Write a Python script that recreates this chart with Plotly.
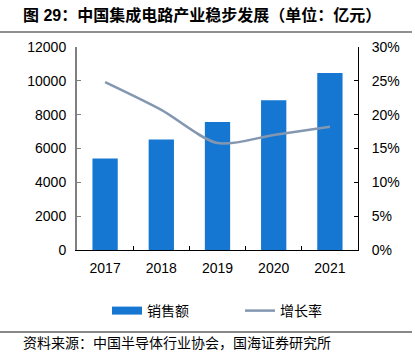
import plotly.graph_objects as go

years = ["2017", "2018", "2019", "2020", "2021"]
sales = [5411.3, 6532.0, 7562.3, 8848.0, 10458.3]
growth = [0.248, 0.207, 0.158, 0.170, 0.182]

left_ticks = [0, 2000, 4000, 6000, 8000, 10000, 12000]
left_labels = ["0", "2000", "4000", "6000", "8000", "10000", "12000"]
right_ticks = [0, 0.05, 0.10, 0.15, 0.20, 0.25, 0.30]

FONT = "Liberation Sans, Arial, Noto Sans CJK SC, sans-serif"
BAR_COLOR = "#1677D2"
LINE_COLOR = "#8497B0"

L, R, T, B = 77, 57, 47, 114
PW, PH = 415 - L - R, 364 - T - B

def px(x):
    return (x - L) / PW

def py(y):
    return (364 - B - y) / PH

fig = go.Figure()
fig.add_trace(go.Bar(x=years, y=sales, name="销售额", marker=dict(color=BAR_COLOR, line=dict(width=0)),
                     yaxis="y", showlegend=False))
# legend entry for bars drawn as a thick short line (rectangle look)
fig.add_trace(go.Scatter(x=[None], y=[None], name="销售额", mode="lines",
                         line=dict(color=BAR_COLOR, width=8), yaxis="y", hoverinfo="skip"))
fig.add_trace(go.Scatter(x=years, y=growth, name="增长率", mode="lines",
                         line=dict(color=LINE_COLOR, width=2.5, shape="spline", smoothing=0.8),
                         yaxis="y2"))

fig.update_layout(
    width=415, height=364,
    margin=dict(l=L, r=R, t=T, b=B),
    paper_bgcolor="white", plot_bgcolor="white",
    font=dict(family=FONT, size=14, color="#000000"),
    bargap=0.55,
    showlegend=True,
    legend=dict(orientation="h", x=px(107), xanchor="left", y=py(311), yanchor="middle",
                font=dict(family="Noto Sans CJK SC, sans-serif", size=14),
                entrywidth=88, entrywidthmode="pixels", bgcolor="rgba(0,0,0,0)"),
    xaxis=dict(type="category", showline=True, linecolor="#000000", linewidth=1,
               ticks="inside", ticklen=4, tickcolor="#000000", tickson="boundaries",
               showgrid=False, tickfont=dict(size=14), ticklabelstandoff=5),
    yaxis=dict(range=[0, 12000], tickvals=left_ticks, ticktext=left_labels, showline=True,
               linecolor="#808080", linewidth=2,
               ticks="inside", ticklen=4, tickcolor="#808080", showgrid=False, zeroline=False,
               tickfont=dict(size=14), ticklabelstandoff=6),
    yaxis2=dict(range=[0, 0.30], tickvals=right_ticks, tickformat=".0%", overlaying="y", side="right",
                showline=True, linecolor="#000000", linewidth=1, ticks="inside", ticklen=4,
                tickcolor="#000000", showgrid=False, zeroline=False, tickfont=dict(size=14),
                ticklabelstandoff=10),
    annotations=[
        dict(text="<b>图 29：中国集成电路产业稳步发展（单位：亿元）</b>", xref="paper", yref="paper",
             x=px(21), y=py(15), xanchor="left", yanchor="middle", showarrow=False,
             font=dict(family="Liberation Sans, Noto Sans CJK SC, sans-serif", size=16)),
        dict(text="资料来源：中国半导体行业协会，国海证券研究所", xref="paper", yref="paper",
             x=px(21), y=py(342), xanchor="left", yanchor="middle", showarrow=False,
             font=dict(family="Noto Sans CJK SC, sans-serif", size=14)),
    ],
    shapes=[
        dict(type="line", xref="paper", yref="paper", x0=px(0), x1=px(412),
             y0=py(32), y1=py(32), line=dict(color="#909090", width=2)),
        dict(type="line", xref="paper", yref="paper", x0=px(0), x1=px(412),
             y0=py(332), y1=py(332), line=dict(color="#606060", width=1.5)),
    ],
)

fig.write_html("out.html", config={"displayModeBar": False},
               post_script="document.body.style.margin='0px';document.body.style.overflow='hidden';")
